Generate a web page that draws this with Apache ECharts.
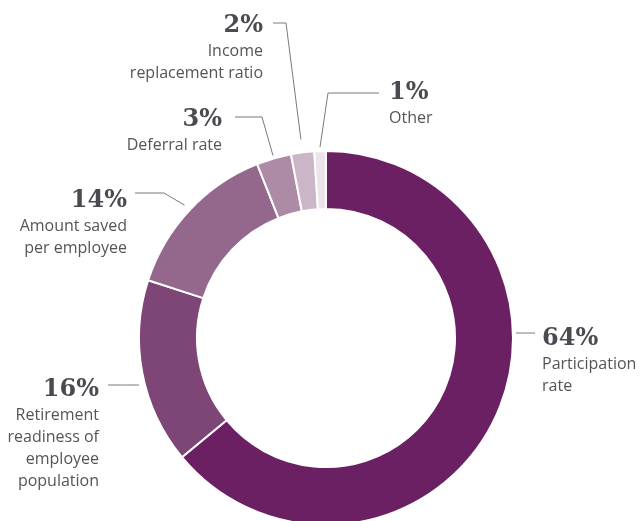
<!DOCTYPE html>
<html>
<head>
<meta charset="utf-8">
<script src="https://cdn.jsdelivr.net/npm/echarts@6/dist/echarts.min.js"></script>
<style>
  html, body { margin: 0; padding: 0; background: #ffffff; }
  #chart { width: 640px; height: 521px; }
</style>
</head>
<body>
<div id="chart"></div>
<script>
// Share of respondents by primary metric
const categories = [
  'Participation\nrate',
  'Retirement\nreadiness of\nemployee\npopulation',
  'Amount saved\nper employee',
  'Deferral rate',
  'Income\nreplacement ratio',
  'Other'
];
const shares = [64, 16, 14, 3, 2, 1];
const sliceColors = ['#6a2062', '#7d4676', '#93688c', '#ad8ba7', '#cbb5c8', '#ece4ea'];

// Ring geometry (pixels)
const CX = 326, CY = 338, R_IN = 129, R_OUT = 187;

// Callout placement for each slice: text anchor, leader line row, bend and gap
const callouts = [
  { x: 542, y: 325, align: 'left',  lineY: 333, lineEnd: 535, mode: 'edge', gap: 3 },
  { x: 99,  y: 376, align: 'right', lineY: 385, lineEnd: 108, mode: 'edge', gap: 6 },
  { x: 127, y: 187, align: 'right', lineY: 193, lineEnd: 135, bendX: 164, gap: 7 },
  { x: 222, y: 106, align: 'right', lineY: 117, lineEnd: 235, bendX: 262, gap: 3 },
  { x: 263, y: 12,  align: 'right', lineY: 23,  lineEnd: 273, bendX: 286, gap: 13 },
  { x: 389, y: 79,  align: 'left',  lineY: 93,  lineEnd: 379, bendX: 328, gap: 4 }
];

const total = shares.reduce((a, b) => a + b, 0);
const midAngles = [];
let acc = 0;
shares.forEach(v => {
  midAngles.push((acc + v / 2) / total * 2 * Math.PI);
  acc += v;
});

function leaderPoints(i) {
  const c = callouts[i];
  if (c.mode === 'edge') {
    const dy = c.lineY - CY;
    const dx = Math.sqrt(R_OUT * R_OUT - dy * dy);
    const sx = c.align === 'left' ? CX + dx + c.gap : CX - dx - c.gap;
    return [[sx, c.lineY], [(sx + c.lineEnd) / 2, c.lineY], [c.lineEnd, c.lineY]];
  }
  const a = midAngles[i];
  const r = R_OUT + c.gap;
  const start = [CX + r * Math.sin(a), CY - r * Math.cos(a)];
  return [start, [c.bendX, c.lineY], [c.lineEnd, c.lineY]];
}

const chart = echarts.init(document.getElementById('chart'), null, { renderer: 'canvas' });

chart.setOption({
  animation: false,
  backgroundColor: '#ffffff',
  series: [{
    type: 'pie',
    center: [CX, CY],
    radius: [R_IN, R_OUT],
    startAngle: 90,
    clockwise: true,
    avoidLabelOverlap: false,
    silent: true,
    itemStyle: { borderColor: '#ffffff', borderWidth: 2 },
    emphasis: { disabled: true },
    label: {
      show: true,
      position: 'outside',
      width: 220,
      overflow: 'none',
      formatter: p => '{p|' + p.value + '%}\n' +
        p.name.split('\n').map(s => '{t|' + s + '}').join('\n'),
      rich: {
        p: {
          fontFamily: 'DejaVu Serif',
          fontWeight: 'bold',
          fontSize: 24,
          lineHeight: 28,
          color: '#4a4b50'
        },
        t: {
          fontFamily: 'Open Sans',
          fontSize: 16,
          lineHeight: 22,
          color: '#555555'
        }
      }
    },
    labelLine: {
      show: true,
      lineStyle: { color: '#7a7a7a', width: 1 }
    },
    labelLayout: params => {
      const c = callouts[params.dataIndex];
      return {
        x: c.x,
        y: c.y,
        align: c.align,
        verticalAlign: 'top',
        labelLinePoints: leaderPoints(params.dataIndex)
      };
    },
    data: categories.map((name, i) => ({
      name: name,
      value: shares[i],
      itemStyle: { color: sliceColors[i] }
    }))
  }]
});
</script>
</body>
</html>
